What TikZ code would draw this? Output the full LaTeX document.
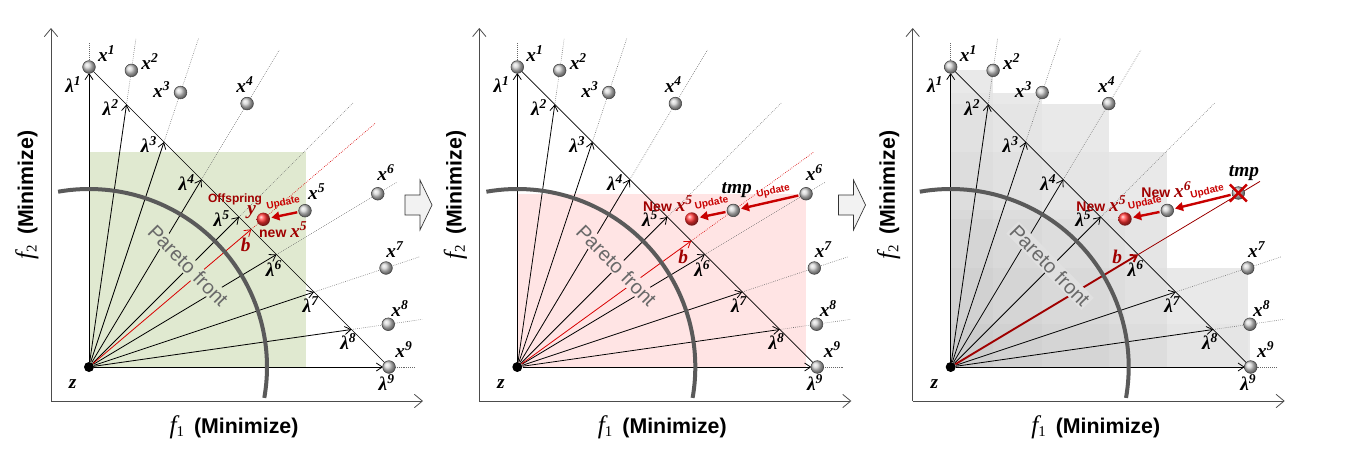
\documentclass[tikz,border=0pt]{standalone}
\usepackage{fontspec}
\setmainfont{Liberation Serif}
\setsansfont{Liberation Sans}
\usetikzlibrary{arrows.meta,shapes.misc}

\definecolor{leafgreen}{RGB}{224,233,208}
\definecolor{rosepink}{RGB}{255,228,228}
\definecolor{darkred}{RGB}{160,0,0}
\definecolor{updred}{RGB}{200,0,0}
\definecolor{frontgray}{RGB}{90,90,90}
\definecolor{textgray}{RGB}{105,105,105}

\newcommand{\lblfnt}{\fontsize{14.5}{16}\selectfont\rmfamily\bfseries\itshape}
\newcommand{\xsol}[1]{x\textsuperscript{#1}}
\newcommand{\wlam}[1]{λ\textsuperscript{#1}}

\tikzset{
  sol/.style={circle, minimum size=9.5pt, inner sep=0pt, ball color=gray!35, draw=gray!50!black, line width=0.4pt},
  newsol/.style={circle, minimum size=10pt, inner sep=0pt, ball color=red!80},
  ideal/.style={circle, fill=black, minimum size=7.5pt, inner sep=0pt},
  lbl/.style={font=\lblfnt, inner sep=0pt},
  wvec/.style={->, line width=0.6pt},
  ray/.style={gray!80!black, line width=0.45pt, densely dotted},
  redray/.style={red!85!black, line width=0.5pt, densely dotted},
  bvec/.style={->, red!85!black, line width=0.6pt},
  upd/.style={-{Triangle[length=6pt,width=6.5pt]}, updred, line width=1.8pt, shorten >=1pt, shorten <=1pt},
  updtext/.style={font=\fontsize{7.5}{8}\selectfont\sffamily\bfseries, text=updred, inner sep=0pt},
  redlbl/.style={font=\fontsize{10.5}{12}\selectfont\sffamily\bfseries, text=darkred, inner sep=0pt},
  front/.style={frontgray, line width=3pt},
  fronttext/.style={font=\fontsize{15}{17}\selectfont\sffamily, text=textgray, rotate=-45.5, inner sep=1pt},
  axis/.style={gray!60!black, line width=0.6pt, -{Straight Barb[length=6pt,width=10pt]}},
  axlbl/.style={font=\fontsize{16}{18}\selectfont, inner sep=0pt},
  nextstep/.style={fill=gray!10, draw=black!80, line width=0.5pt},
}

% axes, weight vectors and their labels of one panel
\newcommand{\panelgrid}[2]{%
  \coordinate (#1o) at (-38,-34);
  \coordinate (#1ytop) at (-38,339);
  \coordinate (#1xend) at (334,-34);
  \draw[axis] (#1o) -- (#1ytop);
  \draw[axis] (#1o) -- (#1xend);
  \node[axlbl] (#1fa) at (145,-60) {{\fontsize{19}{20}\selectfont\itshape f}\textsubscript{1}\hspace{7pt}{\sffamily\bfseries (Minimize)}};
  \node[axlbl, rotate=90] (#1fb) at (-62,172) {{\fontsize{19}{20}\selectfont\itshape f}\textsubscript{2}\hspace{7pt}{\sffamily\bfseries (Minimize)}};
  \node[ideal] (#1z) at (0,0) {};
  \node[lbl] (#1zt) at (-16.3,-17.3) {z};
  \foreach \i/\scl/\tx/\ty in {1/1.083/-15.7/282, 2/1.253/21.7/259.7, 3/1.46/60/222,
      4/1.69/97.7/184.6, 5/1.76/132.7/148, 6/1.64/185/98.7, 7/1.47/221.7/62,
      8/1.27/259.3/25.3, 9/1.09/297.7/-15.7} {
    \coordinate (#1l\i) at ({37.5*(\i-1)},{300-37.5*(\i-1)});
    \coordinate (#1e\i) at ({\scl*37.5*(\i-1)},{\scl*(300-37.5*(\i-1))});
    \draw[ray] (#1l\i) -- (#1e\i);
    \node[lbl] (#1lt\i) at (\tx,\ty) {\wlam{\i}};
  }
  \draw[line width=0.5pt] (#1l1) -- (#1l9);
  \draw[wvec, shorten >=4.5pt] (#1z) -- (#1l1);
  \draw[wvec, shorten >=4.5pt] (#1z) -- (#1l9);
  \foreach \i in {#2} \draw[wvec] (#1z) -- (#1l\i);
}

% pareto front arc
\newcommand{\panelfront}[2]{%
  \node[fronttext, fill=#2] (#1pf) at (99.3,101.3) {Pareto front};
  \draw[front] (100:178) arc (100:-10:178);
}

% solutions that stay the same
\newcommand{\panelsols}[1]{%
  \foreach \i/\scl/\tx/\ty in {1/1/17.7/313.7, 2/1.13/61/305.3, 3/1.22/72.7/277,
      4/1.405/156/282, 7/1.32/306/117, 8/1.14/311/58.7, 9/1/315/17} {
    \node[sol] (#1x\i) at ({\scl*37.5*(\i-1)},{\scl*(300-37.5*(\i-1))}) {};
    \node[lbl] (#1xt\i) at (\tx,\ty) {\xsol{\i}};
  }
}

\begin{document}
\begin{tikzpicture}[x=0.75pt, y=0.75pt, >={Straight Barb[length=4.5pt,width=6pt]}]
\useasboundingbox (0,0) rectangle (1345,455);

% panel 1: offspring
\begin{scope}[shift={(89,88)}]
  \fill[leafgreen] (0,0) rectangle (217,215.5);
  \panelgrid{a}{2,3,4,5,6,7,8}
  \coordinate (ab) at (162.3,137.7);
  \coordinate (ar) at (286,243.5);
  \draw[redray] (ab) -- (ar);
  \draw[bvec] (az) -- (ab);
  \node[lbl, text=darkred] (abt) at (156.7,122) {b};
  \panelfront{a}{leafgreen}
  \panelsols{a}
  \node[sol] (ax6) at (288.75,173.25) {};
  \node[lbl] (axt6) at (297,194) {\xsol{6}};
  \node[sol] (ax5) at (216,156.3) {};
  \node[lbl] (axt5) at (227.7,175.3) {\xsol{5}};
  \node[newsol] (ay) at (174.3,147.7) {};
  \draw[upd] (ax5) -- (ay);
  \node[updtext, rotate=12] (aup) at (194.3,164) {Update};
  \node[redlbl, font=\fontsize{9}{11}\selectfont\sffamily\bfseries] (aoff) at (146,167.7) {Offspring};
  \node[lbl, text=darkred] (ayt) at (162.7,154.6) {y};
  \node[redlbl] (anew) at (194.3,137.3) {new {\lblfnt\xsol{5}}};
\end{scope}

\draw[nextstep] (405,240) -- (420,240) -- (420,225) -- (432,250) -- (420,275) -- (420,260) -- (405,260) -- cycle;

% panel 2: update of x5
\begin{scope}[shift={(517.3,88)}]
  \fill[rosepink] (0,0) rectangle (288.75,173.25);
  \panelgrid{b}{2,3,4,5,6,7,8}
  \coordinate (bb) at (173.9,126.1);
  \coordinate (br) at (296,214.6);
  \draw[redray] (bb) -- (br);
  \draw[bvec] (bz) -- (bb);
  \node[lbl, text=darkred] (bbt) at (166,110) {b};
  \panelfront{b}{rosepink}
  \panelsols{b}
  \node[sol] (bx6) at (288.75,173.25) {};
  \node[lbl] (bxt6) at (297,194) {\xsol{6}};
  \node[sol] (btmp) at (216,156.6) {};
  \node[lbl] (btmpt) at (219.4,177) {tmp};
  \node[newsol] (bx5) at (174.4,148) {};
  \draw[upd] (bx6) -- (btmp);
  \draw[upd] (btmp) -- (bx5);
  \node[updtext, rotate=13] (bup1) at (256,175.5) {Update};
  \node[updtext, rotate=12] (bup2) at (194.4,164) {Update};
  \node[redlbl] (bnew) at (150.7,163.8) {New {\lblfnt\xsol{5}}};
\end{scope}

\draw[nextstep] (838.5,240) -- (853.5,240) -- (853.5,225) -- (865.5,250) -- (853.5,275) -- (853.5,260) -- (838.5,260) -- cycle;

% panel 3: update of x6
\begin{scope}[shift={(950.7,88)}]
  \foreach \rx/\ry in {42.4/296.6, 91.5/274.5, 158/263.4, 216/215.5, 174.3/148, 216.6/156.6, 297/99, 299/42.75}
    \fill[black!7] (0,0) rectangle (\rx,\ry);
  \foreach \rx/\ry in {42.4/296.6, 91.5/274.5, 158/263.4, 216/215.5, 174.3/148, 216.6/156.6, 297/99, 299/42.75}
    \fill[black, fill opacity=0.015] (0,0) rectangle (\rx,\ry);
  \panelgrid{c}{2,3,4,5,7,8}
  \coordinate (cr) at (309.3,185.6);
  \draw[darkred, line width=0.6pt] (cl6) -- (cr);
  \draw[bvec, darkred, line width=1.4pt] (cz) -- (cl6);
  \node[lbl, text=darkred] (cbt) at (166.6,110) {b};
  \panelfront{c}{black!12}
  \panelsols{c}
  \node[newsol] (cx5) at (174.3,148) {};
  \node[sol] (cx6) at (216.6,156.6) {};
  \node[sol] (ctmp) at (287.6,174) {};
  \node[cross out, draw=updred, line width=1.8pt, minimum size=11pt, inner sep=0pt] (ccross) at (ctmp) {};
  \node[lbl] (ctmpt) at (293.3,193.8) {tmp};
  \draw[upd] (ctmp) -- (cx6);
  \draw[upd] (cx6) -- (cx5);
  \node[updtext, rotate=13] (cup1) at (256.6,175) {Update};
  \node[updtext, rotate=12] (cup2) at (194.3,164) {Update};
  \node[redlbl] (cnew6) at (215.6,177.8) {New {\lblfnt\xsol{6}}};
  \node[redlbl] (cnew5) at (150.6,163.8) {New {\lblfnt\xsol{5}}};
\end{scope}
\end{tikzpicture}
\end{document}
